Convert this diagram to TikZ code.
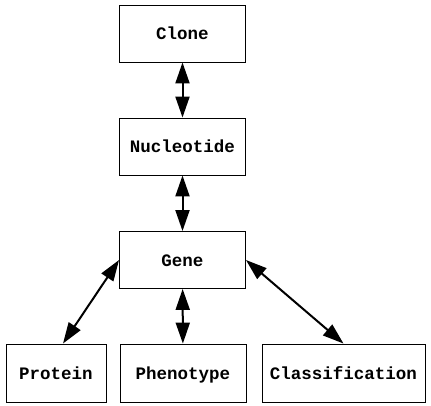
\documentclass[tikz,border=0pt]{standalone}
\usepackage{fontspec}
\setmonofont{Liberation Mono}
\usetikzlibrary{arrows.meta}
\begin{document}
\begin{tikzpicture}[x=1pt,y=-1pt,
  box/.style={draw=black,line width=0.9pt,rectangle,inner sep=0pt,text height=14pt,text depth=1pt,font=\ttfamily\bfseries\fontsize{17.5}{19}\selectfont},
  link/.style={line width=2pt,{Triangle[length=21pt,width=14pt]}-{Triangle[length=21pt,width=14pt]}}]
\useasboundingbox (0,0) rectangle (431,406);
\node[box,minimum width=126pt,minimum height=57pt] (clone) at (182.5,33.5) {Clone};
\node[box,minimum width=126pt,minimum height=57pt] (nuc) at (182.5,146.5) {Nucleotide};
\node[box,minimum width=126pt,minimum height=57pt] (gene) at (182.5,260) {Gene};
\node[box,minimum width=100pt,minimum height=58pt] (prot) at (56,373) {Protein};
\node[box,minimum width=126pt,minimum height=58pt] (phen) at (183,373) {Phenotype};
\node[box,minimum width=163pt,minimum height=58pt] (cls) at (343.5,373) {Classification};
\draw[link] (clone) -- (nuc);
\draw[link] (nuc) -- (gene);
\draw[link] (gene.west) -- ([xshift=7pt]prot.north);
\draw[link] (gene) -- (phen);
\draw[link] (gene.east) -- (cls.north);
\end{tikzpicture}
\end{document}
